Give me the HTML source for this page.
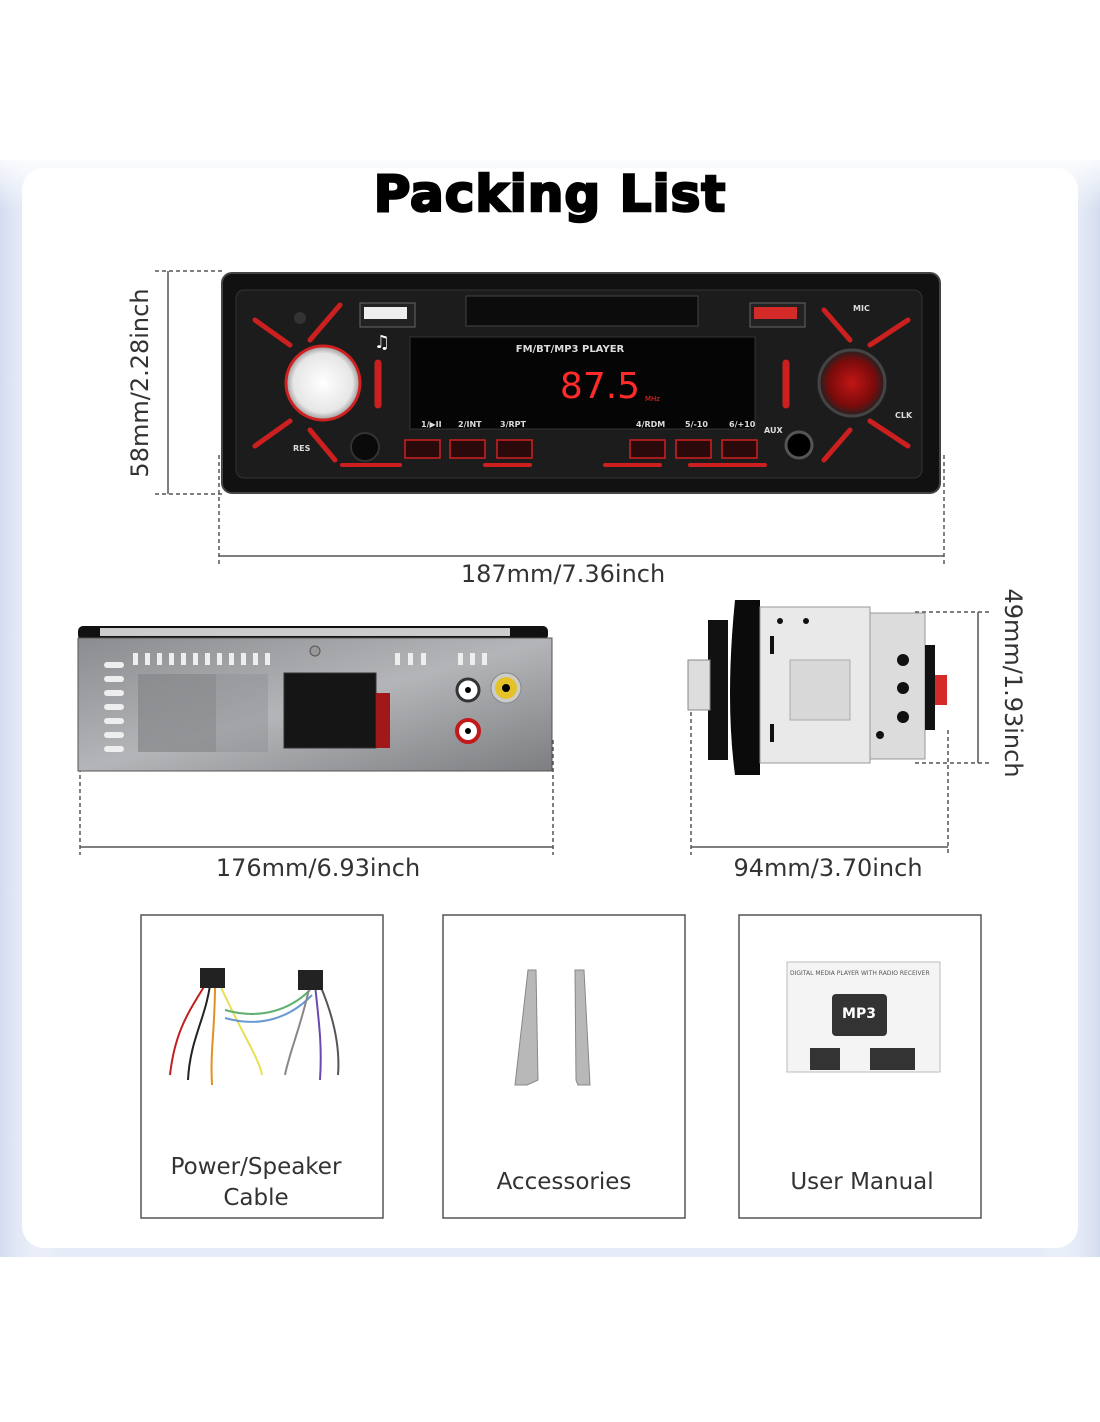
<!DOCTYPE html>
<html><head><meta charset="utf-8"><style>
html,body{margin:0;padding:0;background:#fff;width:1100px;height:1422px;overflow:hidden}
svg{display:block}
text{font-family:"DejaVu Sans","Liberation Sans",sans-serif}
</style></head><body>
<svg width="1100" height="1422" viewBox="0 0 1100 1422" xmlns="http://www.w3.org/2000/svg">
<defs>
<linearGradient id="bgL" x1="0" x2="1"><stop offset="0" stop-color="#d3dcf0"/><stop offset="1" stop-color="#fff" stop-opacity="0"/></linearGradient>
<linearGradient id="bgR" x1="1" x2="0"><stop offset="0" stop-color="#d3dcf0"/><stop offset="1" stop-color="#fff" stop-opacity="0"/></linearGradient>
<linearGradient id="metal" x1="0" y1="0" x2="1" y2="1"><stop offset="0" stop-color="#8a8c8f"/><stop offset=".5" stop-color="#b3b5b8"/><stop offset="1" stop-color="#7c7e81"/></linearGradient>
<radialGradient id="knob"><stop offset="0" stop-color="#fff"/><stop offset=".8" stop-color="#e6e6e6"/><stop offset="1" stop-color="#999"/></radialGradient>
<radialGradient id="rknob"><stop offset="0" stop-color="#c21515"/><stop offset=".7" stop-color="#7a0b0b"/><stop offset="1" stop-color="#222"/></radialGradient>
<linearGradient id="topfade" x1="0" y1="0" x2="0" y2="1"><stop offset="0" stop-color="#fff"/><stop offset="1" stop-color="#fff" stop-opacity="0"/></linearGradient>
</defs>
<!-- background card -->
<rect x="0" y="160" width="1100" height="1097" fill="#e6ecf7"/>
<rect x="0" y="160" width="60" height="1097" fill="url(#bgL)"/>
<rect x="1040" y="160" width="60" height="1097" fill="url(#bgR)"/>
<rect x="22" y="168" width="1056" height="1080" rx="22" fill="#fff"/>
<rect x="0" y="150" width="1100" height="60" fill="url(#topfade)"/>
<rect x="0" y="0" width="1100" height="160" fill="#fff"/>

<text x="550" y="211" text-anchor="middle" font-family="Liberation Sans" font-weight="bold" font-size="50" stroke="#000" stroke-width="2.5" fill="#000" letter-spacing="1">Packing List</text>

<!-- radio front -->
<rect x="222" y="273" width="718" height="220" rx="10" fill="#111" stroke="#444" stroke-width="2"/>
<rect x="236" y="290" width="686" height="188" rx="8" fill="#1c1c1c" stroke="#333"/>
<g stroke="#e02020" stroke-width="5" stroke-linecap="round" opacity=".9">
<line x1="255" y1="320" x2="290" y2="345"/><line x1="255" y1="446" x2="290" y2="421"/>
<line x1="340" y1="305" x2="310" y2="340"/><line x1="335" y1="460" x2="310" y2="430"/>
<line x1="908" y1="320" x2="870" y2="345"/><line x1="908" y1="446" x2="870" y2="421"/>
<line x1="824" y1="310" x2="850" y2="340"/><line x1="824" y1="460" x2="850" y2="430"/>
<line x1="378" y1="363" x2="378" y2="405" stroke-width="7"/><line x1="786" y1="363" x2="786" y2="405" stroke-width="7"/>
<line x1="342" y1="465" x2="400" y2="465" stroke-width="4"/>
<line x1="485" y1="465" x2="530" y2="465" stroke-width="4"/>
<line x1="605" y1="465" x2="660" y2="465" stroke-width="4"/>
<line x1="690" y1="465" x2="765" y2="465" stroke-width="4"/>
</g>
<circle cx="323" cy="383" r="37" fill="url(#knob)" stroke="#d02020" stroke-width="3"/>
<circle cx="852" cy="383" r="33" fill="url(#rknob)" stroke="#444" stroke-width="3"/>
<circle cx="365" cy="447" r="14" fill="#0a0a0a" stroke="#333" stroke-width="2"/>
<circle cx="799" cy="445" r="13" fill="#000" stroke="#555" stroke-width="3"/>
<circle cx="300" cy="318" r="6" fill="#333"/>
<rect x="466" y="296" width="232" height="30" fill="#0c0c0c" stroke="#444"/>
<rect x="360" y="303" width="55" height="24" fill="#222" stroke="#666"/><rect x="364" y="307" width="43" height="12" fill="#eee"/>
<rect x="750" y="303" width="55" height="24" fill="#222" stroke="#666"/><rect x="754" y="307" width="43" height="12" fill="#d42a2a"/>
<rect x="410" y="337" width="345" height="92" fill="#050505" stroke="#333"/>
<text x="570" y="352" font-size="10" font-weight="bold" fill="#ddd" text-anchor="middle">FM/BT/MP3  PLAYER</text>
<text x="600" y="398" font-size="36" fill="#ff2a2a" text-anchor="middle" font-family="Liberation Mono">87.5</text>
<text x="645" y="401" font-size="7" fill="#ff2a2a">MHz</text>
<g font-size="8" fill="#ddd" font-weight="bold">
<text x="421" y="427">1/▶II</text><text x="458" y="427">2/INT</text><text x="500" y="427">3/RPT</text>
<text x="636" y="427">4/RDM</text><text x="685" y="427">5/-10</text><text x="729" y="427">6/+10</text>
<text x="764" y="433">AUX</text><text x="293" y="451">RES</text><text x="853" y="311">MIC</text><text x="895" y="418">CLK</text>
</g>
<g fill="#2a0a0a" stroke="#d02020" stroke-width="1.5">
<rect x="405" y="440" width="35" height="18"/><rect x="450" y="440" width="35" height="18"/><rect x="497" y="440" width="35" height="18"/>
<rect x="630" y="440" width="35" height="18"/><rect x="676" y="440" width="35" height="18"/><rect x="722" y="440" width="35" height="18"/>
</g>
<text x="374" y="348" font-size="18" fill="#fff">♫</text>

<!-- dims -->
<g stroke="#555" stroke-width="1.5" fill="none">
<line x1="168" y1="271" x2="168" y2="494"/><line x1="155" y1="271" x2="222" y2="271" stroke-dasharray="4 3"/><line x1="155" y1="494" x2="222" y2="494" stroke-dasharray="4 3"/>
<line x1="219" y1="556" x2="944" y2="556"/><line x1="219" y1="455" x2="219" y2="566" stroke-dasharray="4 3"/><line x1="944" y1="455" x2="944" y2="566" stroke-dasharray="4 3"/>
<line x1="80" y1="847" x2="553" y2="847"/><line x1="80" y1="740" x2="80" y2="855" stroke-dasharray="4 3"/><line x1="553" y1="740" x2="553" y2="855" stroke-dasharray="4 3"/>
<line x1="691" y1="847" x2="948" y2="847"/><line x1="691" y1="705" x2="691" y2="855" stroke-dasharray="4 3"/><line x1="948" y1="730" x2="948" y2="855" stroke-dasharray="4 3"/>
<line x1="978" y1="612" x2="978" y2="763"/><line x1="915" y1="612" x2="990" y2="612" stroke-dasharray="4 3"/><line x1="915" y1="763" x2="990" y2="763" stroke-dasharray="4 3"/>
</g>
<g font-size="24" fill="#333">
<text x="148" y="383" text-anchor="middle" transform="rotate(-90 148 383)">58mm/2.28inch</text>
<text x="563" y="582" text-anchor="middle">187mm/7.36inch</text>
<text x="318" y="876" text-anchor="middle">176mm/6.93inch</text>
<text x="828" y="876" text-anchor="middle">94mm/3.70inch</text>
<text x="1005" y="683" text-anchor="middle" transform="rotate(90 1005 683)">49mm/1.93inch</text>
</g>

<!-- back view -->
<rect x="78" y="626" width="470" height="14" rx="5" fill="#111"/>
<rect x="100" y="628" width="410" height="8" fill="#ccc"/>
<rect x="78" y="638" width="474" height="133" fill="url(#metal)" stroke="#555"/>
<rect x="138" y="674" width="78" height="78" fill="#7d7f82" opacity=".5"/>
<rect x="138" y="674" width="130" height="78" fill="#8a8c8f" opacity=".4"/>
<g fill="#eee"><rect x="133" y="653" width="5" height="12"/><rect x="145" y="653" width="5" height="12"/><rect x="157" y="653" width="5" height="12"/><rect x="169" y="653" width="5" height="12"/><rect x="181" y="653" width="5" height="12"/><rect x="193" y="653" width="5" height="12"/><rect x="205" y="653" width="5" height="12"/><rect x="217" y="653" width="5" height="12"/><rect x="229" y="653" width="5" height="12"/><rect x="241" y="653" width="5" height="12"/><rect x="253" y="653" width="5" height="12"/><rect x="265" y="653" width="5" height="12"/>
<rect x="395" y="653" width="5" height="12"/><rect x="408" y="653" width="5" height="12"/><rect x="421" y="653" width="5" height="12"/><rect x="458" y="653" width="5" height="12"/><rect x="470" y="653" width="5" height="12"/><rect x="482" y="653" width="5" height="12"/>
<rect x="104" y="662" width="20" height="6" rx="3"/><rect x="104" y="676" width="20" height="6" rx="3"/><rect x="104" y="690" width="20" height="6" rx="3"/><rect x="104" y="704" width="20" height="6" rx="3"/><rect x="104" y="718" width="20" height="6" rx="3"/><rect x="104" y="732" width="20" height="6" rx="3"/><rect x="104" y="746" width="20" height="6" rx="3"/></g>
<rect x="284" y="673" width="92" height="75" fill="#151515" stroke="#333"/>
<rect x="376" y="693" width="14" height="55" fill="#a01818"/>
<circle cx="315" cy="651" r="5" fill="#999" stroke="#555"/>
<circle cx="468" cy="690" r="11" fill="#fff" stroke="#333" stroke-width="3"/><circle cx="468" cy="690" r="3" fill="#000"/>
<circle cx="468" cy="731" r="11" fill="#fff" stroke="#c21a1a" stroke-width="4"/><circle cx="468" cy="731" r="3" fill="#000"/>
<circle cx="506" cy="688" r="15" fill="#ccc" stroke="#888"/><circle cx="506" cy="688" r="11" fill="#e6c22a"/><circle cx="506" cy="688" r="4" fill="#000"/>

<!-- side view -->
<rect x="708" y="620" width="20" height="140" fill="#111"/>
<rect x="688" y="660" width="22" height="50" fill="#ddd" stroke="#888"/>
<path d="M735 600 H760 V775 H735 Q725 700 735 600 Z" fill="#0b0b0b"/>
<rect x="760" y="607" width="110" height="156" fill="#e9e9e9" stroke="#999"/>
<rect x="870" y="613" width="55" height="146" fill="#dcdcdc" stroke="#999"/>
<rect x="790" y="660" width="60" height="60" fill="#d8d8d8" stroke="#aaa"/>
<g fill="#111"><circle cx="780" cy="621" r="3"/><circle cx="806" cy="621" r="3"/><circle cx="903" cy="660" r="6"/><circle cx="903" cy="688" r="6"/><circle cx="903" cy="717" r="6"/><circle cx="880" cy="735" r="4"/>
<rect x="770" y="636" width="4" height="18"/><rect x="770" y="724" width="4" height="18"/><rect x="925" y="645" width="10" height="85"/></g>
<rect x="935" y="675" width="12" height="30" fill="#d42a2a"/>

<!-- boxes -->
<g fill="#fff" stroke="#555" stroke-width="1.5">
<rect x="141" y="915" width="242" height="303"/><rect x="443" y="915" width="242" height="303"/><rect x="739" y="915" width="242" height="303"/>
</g>
<g fill="none" stroke-width="2">
<path d="M205 985 C190 1010 175 1030 170 1075" stroke="#c12020"/>
<path d="M210 985 C205 1020 190 1040 188 1080" stroke="#222"/>
<path d="M215 985 C215 1030 210 1050 212 1085" stroke="#e09020"/>
<path d="M220 985 C240 1030 260 1060 262 1075" stroke="#e8e050"/>
<path d="M225 1010 C260 1020 290 1010 310 990" stroke="#60b070"/>
<path d="M225 1018 C260 1028 290 1018 312 995" stroke="#6a9ad0"/>
<path d="M310 985 C300 1030 290 1050 285 1075" stroke="#888"/>
<path d="M315 985 C320 1030 322 1050 320 1080" stroke="#6a4ab0"/>
<path d="M320 985 C335 1020 340 1050 338 1075" stroke="#555"/>
</g>
<rect x="200" y="968" width="25" height="20" fill="#222"/><rect x="298" y="970" width="25" height="20" fill="#222"/>
<path d="M528 970 L536 970 L538 1080 L527 1085 L515 1085 Z" fill="#b8b8b8" stroke="#888"/>
<path d="M575 970 L584 970 L590 1085 L578 1085 L576 1080 Z" fill="#b8b8b8" stroke="#888"/>
<rect x="787" y="962" width="153" height="110" fill="#f4f4f4" stroke="#bbb"/>
<text x="790" y="975" font-size="6" fill="#555">DIGITAL MEDIA PLAYER WITH RADIO RECEIVER</text>
<rect x="832" y="994" width="55" height="42" rx="4" fill="#333"/>
<text x="859" y="1018" font-size="14" font-weight="bold" fill="#fff" text-anchor="middle">MP3</text>
<rect x="810" y="1048" width="30" height="22" fill="#333"/><rect x="870" y="1048" width="45" height="22" fill="#333"/>
<g font-size="23" fill="#333" text-anchor="middle">
<text x="256" y="1174">Power/Speaker</text><text x="256" y="1205">Cable</text>
<text x="564" y="1189">Accessories</text>
<text x="862" y="1189">User Manual</text>
</g>
</svg>
</body></html>
